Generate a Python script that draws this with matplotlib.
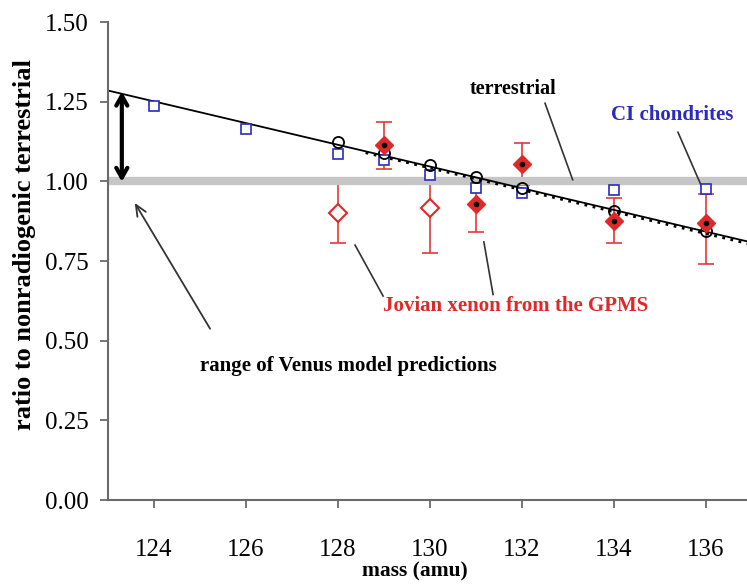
import matplotlib
matplotlib.use("Agg")
import matplotlib.pyplot as plt

plt.rcParams['font.family'] = ['Liberation Serif', 'DejaVu Serif']

# CI chondrites (blue open squares)
ci_mass = [124, 126, 128, 129, 130, 131, 132, 134, 136]
ci_ratio = [1.235, 1.165, 1.085, 1.068, 1.02, 0.98, 0.962, 0.972, 0.975]

# terrestrial (black open circles)
terr_mass = [128, 129, 130, 131, 132, 134, 136]
terr_ratio = [1.122, 1.088, 1.05, 1.015, 0.98, 0.908, 0.843]

# Jovian xenon from GPMS, filled diamonds
jov_mass = [129, 131, 132, 134, 136]
jov_ratio = [1.113, 0.93, 1.055, 0.877, 0.87]
jov_err_lo = [0.075, 0.09, 0.065, 0.072, 0.13]
jov_err_hi = [0.072, 0.07, 0.065, 0.07, 0.09]

# Jovian xenon, open diamonds
jov2_mass = [128, 130]
jov2_ratio = [0.90, 0.915]
jov2_err_lo = [0.094, 0.14]
jov2_err_hi = [0.097, 0.083]

# terrestrial trend lines
fit_x = [123, 137]
fit_y = [1.285, 0.808]
dot_x = [128.6, 136.9]
dot_y = [1.09, 0.805]

red = '#e02828'
blue = '#2b2bc0'

fig = plt.figure(figsize=(7.47, 5.84), dpi=100)
ax = fig.add_axes([0.1446, 0.1438, 0.8554, 0.8185])

ax.axhline(1.0, color='#c6c6c6', lw=6, zorder=1.5)

ax.plot(fit_x, fit_y, color='black', lw=1.3, zorder=2)
ax.plot(dot_x, dot_y, color='black', lw=2, ls=(0, (1, 2)), zorder=2)

ax.errorbar(jov_mass, jov_ratio, yerr=[jov_err_lo, jov_err_hi], fmt='none',
            ecolor='#e03a3a', elinewidth=1.2, capsize=6, capthick=1.2, zorder=1)
ax.errorbar(jov2_mass, jov2_ratio, yerr=[jov2_err_lo, jov2_err_hi], fmt='none',
            ecolor='#e03a3a', elinewidth=1.2, capsize=6, capthick=1.2, zorder=1)

ax.plot(ci_mass, ci_ratio, 's', ms=7.5, mfc='white', mec=blue, mew=1.2, zorder=3)
ax.plot(terr_mass, terr_ratio, 'o', ms=8, mfc='none', mec='black', mew=1.3, zorder=3)
ax.plot(jov2_mass, jov2_ratio, 'D', ms=9.5, mfc='white', mec=red, mew=1.5, zorder=4)
ax.plot(jov_mass, jov_ratio, 'D', ms=9.5, mfc=red, mec=red, mew=1, zorder=4)
ax.plot(jov_mass, jov_ratio, 'o', ms=3, color='black', zorder=5)

# range of Venus model predictions
ax.annotate('', xy=(123.3, 0.99), xytext=(123.3, 1.29),
            arrowprops=dict(arrowstyle='<->,head_length=0.7,head_width=0.4', lw=3, color='black'))
ax.annotate('', xy=(123.55, 0.94), xytext=(125.25, 0.53),
            arrowprops=dict(arrowstyle='->,head_length=0.8,head_width=0.35', lw=1.3, color='#333333'))

ax.text(128.22, 0.42, 'range of Venus model predictions', ha='center', va='center',
        fontsize=15, fontweight='bold')
ax.text(131.85, 0.61, 'Jovian xenon from the GPMS', ha='center', va='center',
        fontsize=15, fontweight='bold', color=red)
ax.plot([128.37, 128.98], [0.80, 0.64], color='#333333', lw=1.2)
ax.plot([131.17, 131.37], [0.81, 0.645], color='#333333', lw=1.2)

ax.text(131.8, 1.29, 'terrestrial', ha='center', va='center', fontsize=14.5, fontweight='bold')
ax.plot([132.5, 133.1], [1.245, 1.005], color='#333333', lw=1.2)

ax.text(135.26, 1.207, 'CI chondrites', ha='center', va='center', fontsize=15,
        fontweight='bold', color=blue)
ax.plot([135.39, 135.93], [1.154, 0.975], color='#333333', lw=1.2)

ax.set_xlim(123, 136.89)
ax.set_ylim(0, 1.5)
ax.set_xticks([124, 126, 128, 130, 132, 134, 136])
ax.set_yticks([0, 0.25, 0.5, 0.75, 1.0, 1.25, 1.5])
ax.set_yticklabels(['0.00', '0.25', '0.50', '0.75', '1.00', '1.25', '1.50'])

ax.spines['top'].set_visible(False)
ax.spines['right'].set_visible(False)
for s in ['left', 'bottom']:
    ax.spines[s].set_color('#6a6a6a')
    ax.spines[s].set_linewidth(1.5)
ax.tick_params(direction='out', length=6, width=1.3, color='#6a6a6a', labelsize=18, pad=8)
ax.tick_params(axis='x', pad=22)

ax.set_xlabel('mass (amu)', fontsize=15.5, fontweight='bold')
ax.xaxis.set_label_coords(0.48, -0.128)
ax.set_ylabel('ratio to nonradiogenic terrestrial', fontsize=19, fontweight='bold')
ax.yaxis.set_label_coords(-0.112, 0.535)

fig.savefig('out.png', dpi=100)
